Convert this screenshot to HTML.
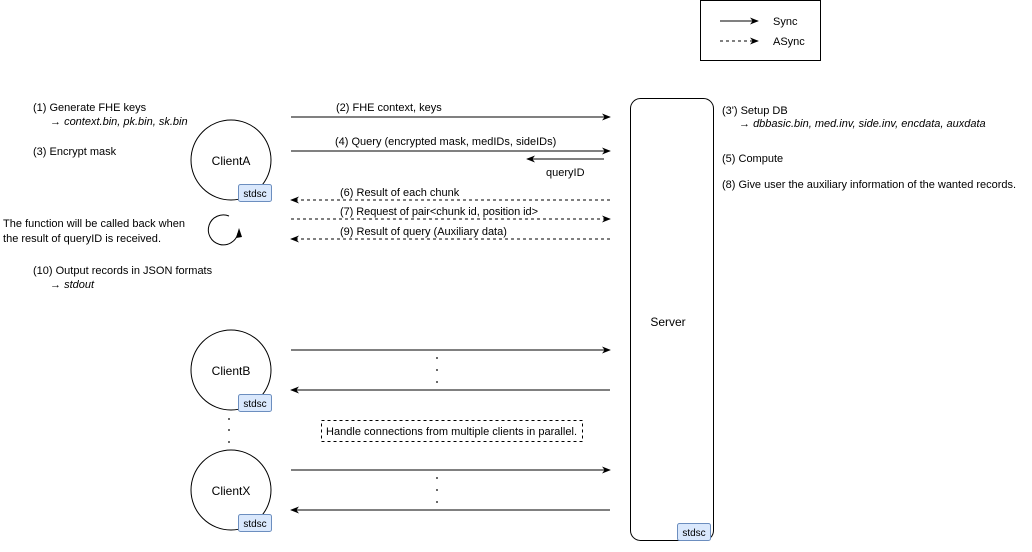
<!DOCTYPE html>
<html><head><meta charset="utf-8"><style>
body{margin:0;background:#fff;}
svg{display:block;font-family:"Liberation Sans",Arial,sans-serif;font-size:11px;}
</style></head><body>
<svg width="1032" height="552" viewBox="0 0 1032 552" xmlns="http://www.w3.org/2000/svg">
<defs>
<marker id="a" viewBox="0 0 10 10" refX="9" refY="5" markerWidth="9" markerHeight="9" orient="auto" markerUnits="userSpaceOnUse"><path d="M0,1 L10,5 L0,9 L3,5 Z" fill="#000"/></marker>
</defs>
<rect x="700.5" y="0.5" width="120" height="60" fill="#fff" stroke="#000"/>
<line x1="720" y1="21" x2="758" y2="21" stroke="#000" marker-end="url(#a)"/>
<text x="773" y="25">Sync</text>
<line x1="720" y1="41" x2="758" y2="41" stroke="#000" stroke-dasharray="3,3" marker-end="url(#a)"/>
<text x="773" y="45">ASync</text>

<text x="33" y="111">(1) Generate FHE keys</text>
<text x="50" y="125">→ <tspan font-style="italic">context.bin, pk.bin, sk.bin</tspan></text>
<text x="33" y="155">(3) Encrypt mask</text>
<text x="3" y="227" textLength="182">The function will be called back when</text>
<text x="3" y="242" textLength="158">the result of queryID is received.</text>
<text x="33" y="274">(10) Output records in JSON formats</text>
<text x="50" y="288">→ <tspan font-style="italic">stdout</tspan></text>

<path d="M229,216 A15,15 0 1 0 238,233" fill="none" stroke="#000"/>
<path d="M236,238 L239,228 L242,237 Z" fill="#000"/>

<circle cx="231" cy="160" r="40" fill="#fff" stroke="#000"/>
<text x="231" y="165" text-anchor="middle" font-size="12">ClientA</text>
<rect x="238.5" y="184.5" width="33" height="17" rx="2" fill="#dae8fc" stroke="#6c8ebf"/>
<text x="255" y="197" text-anchor="middle" font-size="10">stdsc</text>

<circle cx="231" cy="370" r="40" fill="#fff" stroke="#000"/>
<text x="231" y="375" text-anchor="middle" font-size="12">ClientB</text>
<rect x="238.5" y="394.5" width="33" height="17" rx="2" fill="#dae8fc" stroke="#6c8ebf"/>
<text x="255" y="407" text-anchor="middle" font-size="10">stdsc</text>

<circle cx="231" cy="490" r="40" fill="#fff" stroke="#000"/>
<text x="231" y="495" text-anchor="middle" font-size="12">ClientX</text>
<rect x="238.5" y="514.5" width="33" height="17" rx="2" fill="#dae8fc" stroke="#6c8ebf"/>
<text x="255" y="527" text-anchor="middle" font-size="10">stdsc</text>

<g fill="#000"><circle cx="229" cy="419" r="0.9"/><circle cx="229" cy="430" r="0.9"/><circle cx="229" cy="442" r="0.9"/>
<circle cx="437" cy="358" r="0.9"/><circle cx="437" cy="370" r="0.9"/><circle cx="437" cy="382" r="0.9"/>
<circle cx="437" cy="478" r="0.9"/><circle cx="437" cy="490" r="0.9"/><circle cx="437" cy="502" r="0.9"/></g>

<rect x="630.5" y="98.5" width="83" height="442" rx="10" fill="#fff" stroke="#000"/>
<text x="668" y="326" text-anchor="middle" font-size="12">Server</text>
<rect x="677.5" y="523.5" width="33" height="17" rx="2" fill="#dae8fc" stroke="#6c8ebf"/>
<text x="694" y="536" text-anchor="middle" font-size="10">stdsc</text>

<text x="722" y="114">(3') Setup DB</text>
<text x="739" y="127">→ <tspan font-style="italic">dbbasic.bin, med.inv, side.inv, encdata, auxdata</tspan></text>
<text x="722" y="162">(5) Compute</text>
<text x="722" y="188" textLength="294">(8) Give user the auxiliary information of the wanted records.</text>

<g stroke="#000" fill="none">
<line x1="291" y1="117" x2="610" y2="117" marker-end="url(#a)"/>
<line x1="291" y1="151" x2="610" y2="151" marker-end="url(#a)"/>
<line x1="604" y1="159" x2="527" y2="159" marker-end="url(#a)"/>
<line x1="610" y1="200" x2="291" y2="200" stroke-dasharray="3,3" marker-end="url(#a)"/>
<line x1="291" y1="219" x2="610" y2="219" stroke-dasharray="3,3" marker-end="url(#a)"/>
<line x1="610" y1="239" x2="291" y2="239" stroke-dasharray="3,3" marker-end="url(#a)"/>
<line x1="291" y1="350" x2="610" y2="350" marker-end="url(#a)"/>
<line x1="610" y1="390" x2="291" y2="390" marker-end="url(#a)"/>
<line x1="291" y1="470" x2="610" y2="470" marker-end="url(#a)"/>
<line x1="610" y1="510" x2="291" y2="510" marker-end="url(#a)"/>
</g>
<text x="336" y="111">(2) FHE context, keys</text>
<text x="335" y="145">(4) Query (encrypted mask, medIDs, sideIDs)</text>
<text x="546" y="176">queryID</text>
<text x="340" y="196">(6) Result of  each chunk</text>
<text x="340" y="215" textLength="198">(7) Request of pair&lt;chunk id, position id&gt;</text>
<text x="340" y="235">(9) Result of query (Auxiliary data)</text>

<rect x="321.5" y="420.5" width="261" height="21" fill="#fff" stroke="#000" stroke-dasharray="3,3"/>
<text x="326" y="435" textLength="251">Handle connections from multiple clients in parallel.</text>
</svg>
</body></html>
